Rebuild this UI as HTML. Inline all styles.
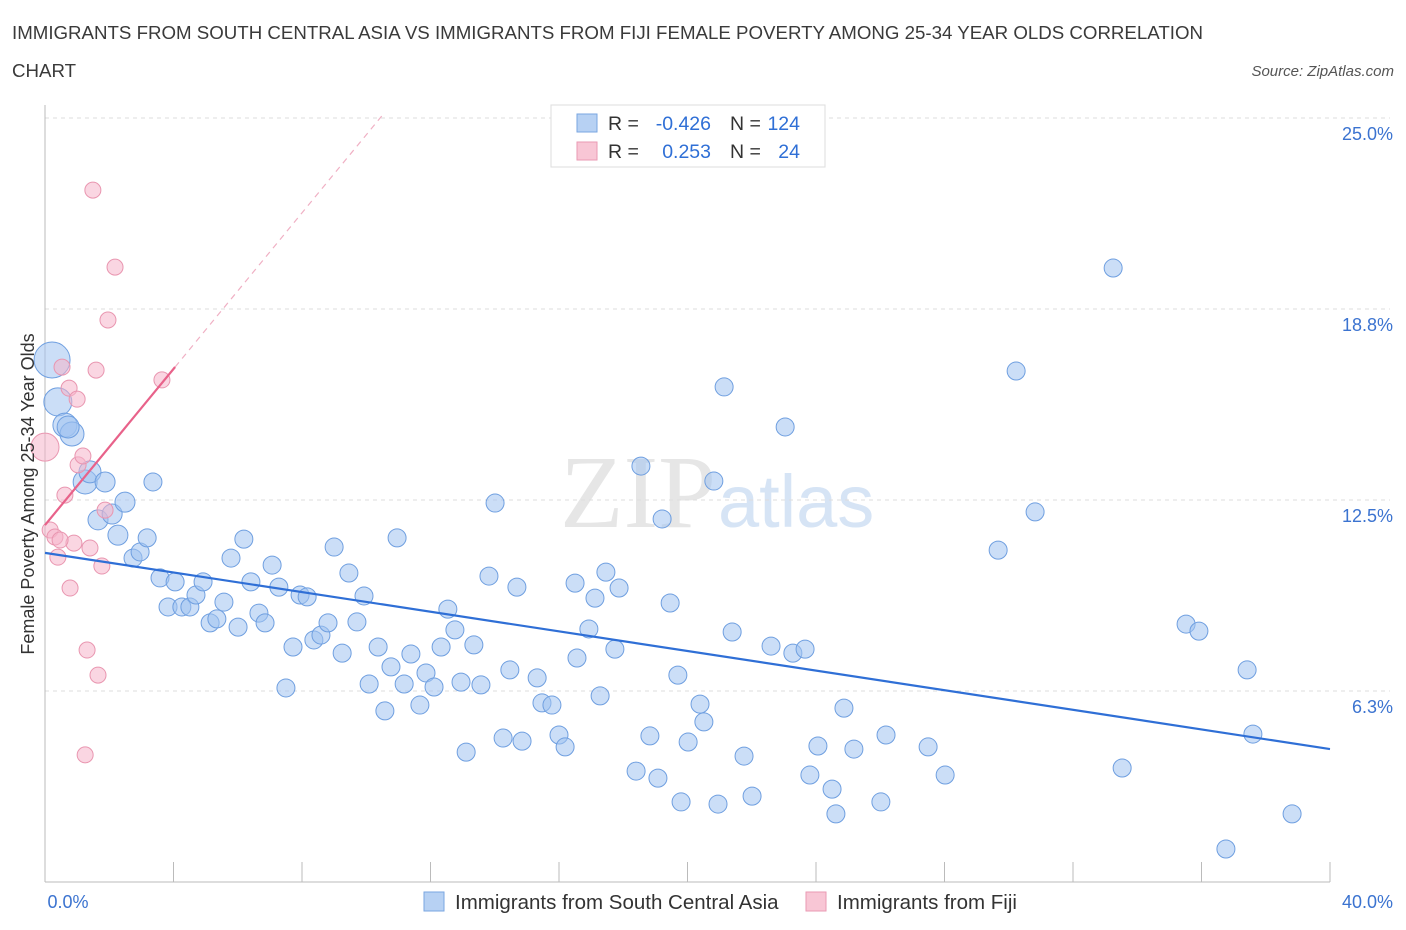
<!DOCTYPE html>
<html><head><meta charset="utf-8"><style>
body{margin:0;background:#fff;font-family:"Liberation Sans",sans-serif;}
svg{display:block}
</style></head><body>
<svg id="chart" width="1406" height="930" viewBox="0 0 1406 930" xmlns="http://www.w3.org/2000/svg">
<text x="12" y="39" font-size="18.7" fill="#3a3a3a">IMMIGRANTS FROM SOUTH CENTRAL ASIA VS IMMIGRANTS FROM FIJI FEMALE POVERTY AMONG 25-34 YEAR OLDS CORRELATION</text>
<text x="12" y="77" font-size="18.7" fill="#3a3a3a">CHART</text>
<text x="1394" y="76" font-size="15" fill="#555" font-style="italic" text-anchor="end">Source: ZipAtlas.com</text>
<text x="716" y="527" font-size="104" fill="#e6e6e6" text-anchor="end" font-family="Liberation Serif,serif">ZIP</text>
<text x="718" y="527" font-size="74" fill="#d6e4f5">atlas</text>
<g id="grid"></g>
<g id="axes"></g>
<g id="marks"></g>
<text transform="translate(34,494) rotate(-90)" font-size="18" fill="#333" text-anchor="middle">Female Poverty Among 25-34 Year Olds</text>
<g>
<rect x="551" y="105" width="274" height="62" fill="#fff" stroke="#ddd"/>
<rect x="577" y="114" width="20" height="18" fill="#b7d1f3" stroke="#7aa6e0"/>
<rect x="577" y="142" width="20" height="18" fill="#f8c6d5" stroke="#ea9ab3"/>
<text x="608" y="130" font-size="19.5" fill="#333">R =</text>
<text x="711" y="130" font-size="19.5" fill="#2f6fd6" text-anchor="end">-0.426</text>
<text x="730" y="130" font-size="19.5" fill="#333">N =</text>
<text x="800" y="130" font-size="19.5" fill="#2f6fd6" text-anchor="end">124</text>
<text x="608" y="158" font-size="19.5" fill="#333">R =</text>
<text x="711" y="158" font-size="19.5" fill="#2f6fd6" text-anchor="end">0.253</text>
<text x="730" y="158" font-size="19.5" fill="#333">N =</text>
<text x="800" y="158" font-size="19.5" fill="#2f6fd6" text-anchor="end">24</text>
</g>
<g>
<rect x="424" y="892" width="20" height="19" fill="#b7d1f3" stroke="#7aa6e0"/>
<text x="455" y="909" font-size="20.5" fill="#333">Immigrants from South Central Asia</text>
<rect x="806" y="892" width="20" height="19" fill="#f8c6d5" stroke="#ea9ab3"/>
<text x="837" y="909" font-size="20.5" fill="#333">Immigrants from Fiji</text>
</g>
</svg>
<script>
const blueX=[0.22,0.40,0.62,0.84,0.72,1.25,1.40,1.87,1.65,2.09,2.49,2.27,2.74,2.96,3.18,3.36,3.58,3.83,4.05,4.26,4.51,4.70,4.92,5.14,5.35,5.57,5.79,6.01,6.19,6.41,6.66,6.85,7.07,7.28,7.50,7.72,7.94,8.16,8.37,8.59,8.81,9.00,9.25,9.46,9.71,9.93,10.09,10.37,10.58,10.77,10.96,11.18,11.39,11.67,11.86,12.11,12.33,12.54,12.76,12.95,13.11,13.35,13.57,13.82,14.01,14.26,14.47,14.69,14.85,15.32,15.47,15.78,16.00,16.19,16.50,16.56,16.93,17.12,17.28,17.46,17.74,17.87,18.40,18.55,18.83,19.08,19.21,19.46,19.70,19.80,20.02,20.39,20.51,20.82,20.95,21.14,21.39,21.76,22.01,22.60,23.04,23.28,23.66,23.81,24.06,24.50,24.62,24.87,25.18,26.02,26.18,27.49,28.02,29.67,30.23,30.82,33.25,33.53,35.52,35.92,37.42,37.60,36.76,38.82];
const blueY=[17.08,15.71,14.95,14.66,14.89,13.09,13.42,13.09,11.85,12.04,12.43,11.35,10.60,10.80,11.26,13.09,9.95,9.00,9.82,9.00,9.00,9.39,9.82,8.48,8.61,9.16,10.60,8.34,11.22,9.82,8.80,8.48,10.37,9.65,6.35,7.69,9.39,9.33,7.92,8.08,8.48,10.96,7.49,10.11,8.51,9.36,6.48,7.69,5.60,7.04,11.26,6.48,7.46,5.79,6.84,6.38,7.69,8.93,8.25,6.54,4.25,7.76,6.45,10.01,12.40,4.71,6.94,9.65,4.61,6.68,5.86,5.79,4.81,4.42,9.78,7.33,8.28,9.29,6.09,10.14,7.62,9.62,3.63,13.61,4.78,3.40,11.88,9.13,6.77,2.62,4.58,5.82,5.24,13.12,2.55,16.20,8.18,4.12,2.81,7.72,14.89,7.49,7.62,3.50,4.45,3.04,2.23,5.69,4.35,2.62,4.81,4.42,3.50,10.86,16.72,12.11,20.09,3.73,8.44,8.21,6.94,4.84,1.08,2.23];
const blueBig=[18,14,12,12,11,12,11,10,10,10,10,10];
const pinkX=[0,0.16,0.31,0.40,0.53,0.62,0.75,0.90,0.78,1.00,1.03,1.18,1.31,1.40,1.49,1.59,1.65,1.25,1.77,1.87,1.96,2.18,3.64,0.47];
const pinkY=[14.23,11.52,11.29,10.63,16.85,12.66,16.16,11.09,9.62,15.80,13.65,13.94,7.59,10.93,22.64,16.75,6.77,4.16,10.34,12.17,18.39,20.12,16.43,11.19];
const blueTrend=[10.77,4.35];
const pinkTrend=[11.68,1.277];
const yTicks=[6.25,12.5,18.75,25];
const yTickLabels=["6.3%","12.5%","18.8%","25.0%"];
const xTicks=[0,4,8,12,16,20,24,28,32,36,40];
const NS="http://www.w3.org/2000/svg";
const X=v=>45+v*32.125, Y=v=>882-v*30.56;
function mk(tag,attrs,parent){const e=document.createElementNS(NS,tag);for(const k in attrs)e.setAttribute(k,attrs[k]);document.getElementById(parent).appendChild(e);return e;}
yTicks.forEach((t,i)=>{
 const g=mk('line',{x1:45,x2:1390,y1:Y(t),y2:Y(t),stroke:'#ddd','stroke-dasharray':'4,4'},'grid');
 
 
 const l=mk('text',{x:1393,y:Y(t)+22,'font-size':18,fill:'#3b73d0','text-anchor':'end'},'grid');
 l.textContent=yTickLabels[i];
 
 
});
const ax=mk('line',{x1:45,x2:45,y1:105,y2:882,stroke:'#bbb'},'axes');


const bx=mk('line',{x1:45,x2:1330,y1:882,y2:882,stroke:'#bbb'},'axes');


xTicks.forEach(t=>{
 const k=mk('line',{x1:X(t),x2:X(t),y1:862,y2:882,stroke:'#bbb'},'axes');
 
 
});
const xl0=mk('text',{x:68,y:908,'font-size':18,fill:'#3b73d0','text-anchor':'middle'},'axes');xl0.textContent=xTicks[0].toFixed(1)+'%';


const xl1=mk('text',{x:1393,y:908,'font-size':18,fill:'#3b73d0','text-anchor':'end'},'axes');xl1.textContent=xTicks[xTicks.length-1].toFixed(1)+'%';


blueX.forEach((x,i)=>{
 const c=mk('circle',{cx:X(x),cy:Y(blueY[i]),r:blueBig[i]||9,fill:'rgba(160,195,240,0.55)',stroke:'#6f9fe0','stroke-width':1},'marks');
 
 
});
pinkX.forEach((x,i)=>{
 const c=mk('circle',{cx:X(x),cy:Y(pinkY[i]),r:i==0?14:8,fill:'rgba(246,180,202,0.55)',stroke:'#e996b0','stroke-width':1},'marks');
 
 
});
const bt=mk('line',{x1:X(0),y1:Y(blueTrend[0]),x2:X(40),y2:Y(blueTrend[1]),stroke:'#2f6fd6','stroke-width':2.2},'marks');


const pd=mk('line',{x1:X(4.05),y1:Y(pinkTrend[0]+pinkTrend[1]*4.05),x2:X(10.5),y2:Y(pinkTrend[0]+pinkTrend[1]*10.5),stroke:'#f0b0c4','stroke-width':1.2,'stroke-dasharray':'6,5'},'marks');


const pt=mk('line',{x1:X(0),y1:Y(pinkTrend[0]),x2:X(4.05),y2:Y(pinkTrend[0]+pinkTrend[1]*4.05),stroke:'#e8628a','stroke-width':2.2},'marks');


</script>
</body></html>
